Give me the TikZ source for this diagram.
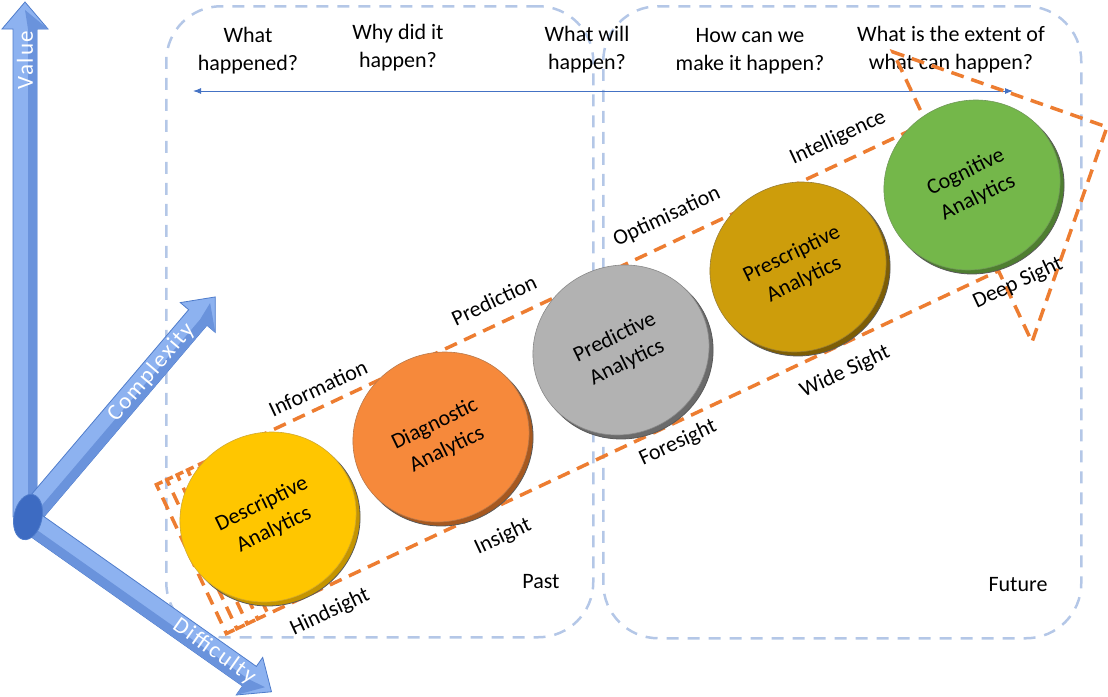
\documentclass[tikz,border=0pt]{standalone}
\usepackage{fontspec}
\setmainfont{Carlito}
\usetikzlibrary{shapes.geometric,calc,arrows.meta}

\definecolor{boxblue}{HTML}{B4C7E7}
\definecolor{linkblue}{HTML}{4472C4}
\definecolor{dashorange}{HTML}{ED7D31}
\definecolor{axislight}{HTML}{8DB2F0}
\definecolor{axisdark}{HTML}{6A93DC}
\definecolor{axisedge}{HTML}{4F7CCB}
\definecolor{jointblue}{HTML}{3D6BC2}
% stage colours: face / rim
\definecolor{descface}{HTML}{FFC600}
\definecolor{descrim}{HTML}{C49400}
\definecolor{diagface}{HTML}{F6893B}
\definecolor{diagrim}{HTML}{A6581F}
\definecolor{predface}{HTML}{B2B2B2}
\definecolor{predrim}{HTML}{6B6B6B}
\definecolor{prescface}{HTML}{CD9D0B}
\definecolor{prescrim}{HTML}{7D5D05}
\definecolor{cogface}{HTML}{74B74A}
\definecolor{cogrim}{HTML}{4E7E30}

\tikzset{
  txt/.style={font=\fontsize{22}{28}\selectfont, inner sep=0pt, align=center},
  zone/.style={draw=boxblue, line width=2.5pt, dash pattern=on 12pt off 9pt,
    rounded corners=55pt, inner sep=0pt, anchor=north west},
  flow/.style={draw=dashorange, line width=3.5pt, dash pattern=on 13pt off 8pt},
  disc/.style={ellipse, minimum width=178pt, minimum height=168pt, inner sep=0pt,
    rotate=26, txt},
  rim/.style={disc, fill=#1, draw=black!65, line width=0.8pt},
  face/.style={disc, fill=#1},
  tag/.style={txt, rotate=25},
  axis/.style={fill=axislight, draw=axisedge, line width=0.8pt},
  axisshade/.style={fill=axisdark},
  axislabel/.style={inner sep=0pt, text=white,
    font=\fontsize{23}{28}\selectfont\addfontfeature{LetterSpace=8}},
}

\begin{document}
\begin{tikzpicture}[x=1pt, y=-1pt]
\useasboundingbox (0,0) rectangle (1108,696);

% past / future zones
\node[zone, minimum width=427pt, minimum height=631pt] (past) at (165,5) {};
\node[zone, minimum width=478pt, minimum height=632pt] (future) at (602,5) {};
\node[txt] (pastlbl) at (541,582) {Past};
\node[txt] (futurelbl) at (1018,585) {Future};

% questions and the time line
\node[txt] (q1) at (248,51) {What\\happened?};
\node[txt] (q2) at (398,48) {Why did it\\happen?};
\node[txt] (q3) at (587,50) {What will\\happen?};
\node[txt] (q4) at (750,51) {How can we\\make it happen?};
\node[txt] (q5) at (951,50) {What is the extent of\\what can happen?};
\coordinate (tl) at (193,91);
\coordinate (tr) at (1013,91);
\draw[linkblue, line width=1pt, {Latex[length=8pt,width=6pt]}-{Latex[length=8pt,width=6pt]}] (tl) -- (tr);

% big dashed arrow
\coordinate (t0) at (198,465);
\coordinate (b0) at (268,614);
\coordinate (j1) at (926.4,122.9);
\coordinate (htop) at (893,52);
\coordinate (tip) at (1107,127);
\coordinate (hbot) at (1032,342);
\coordinate (j2) at (998.5,270.8);
\draw[flow] (t0) -- (j1) -- (htop) -- (tip) -- (hbot) -- (j2) -- (b0) -- cycle;
% trailing tails behind the arrow
\foreach \k in {1,2,3,4}{
  \coordinate (tk) at ($(t0)+\k*(-10.4,4.9)$);
  \coordinate (bk) at ($(b0)+\k*(-10.4,4.9)$);
  \draw[flow] ($(tk)+(6,-2.8)$) -- (tk) -- (bk) -- ($(bk)+(8,-3.8)$);
}

% labels along the arrow
\node[tag] (l1) at (318,388) {Information};
\node[tag] (l2) at (494,300) {Prediction};
\node[tag] (l3) at (667,217) {Optimisation};
\node[tag] (l4) at (838,138) {Intelligence};
\node[tag] (l5) at (330,612) {Hindsight};
\node[tag] (l6) at (503,537) {Insight};
\node[tag] (l7) at (678,443) {Foresight};
\node[tag] (l8) at (845,372) {Wide Sight};
\node[tag] (l9) at (1018,283) {Deep Sight};

% analytics stages
\node[rim=descrim] (desc-r) at (272,521) {};
\node[face=descface, draw=descrim!80, line width=0.6pt] (desc) at (268,517) {Descriptive\\Analytics};
\node[rim=diagrim] (diag-r) at (445,441) {};
\node[face=diagface, draw=diagrim!80, line width=0.6pt] (diag) at (441,437) {Diagnostic\\Analytics};
\node[rim=predrim] (pred-r) at (625,354) {};
\node[face=predface, draw=predrim!80, line width=0.6pt] (pred) at (621,350) {Predictive\\Analytics};
\node[rim=prescrim] (presc-r) at (802,271) {};
\node[face=prescface, draw=prescrim!80, line width=0.6pt] (presc) at (798,267) {Prescriptive\\Analytics};
\node[rim=cogrim] (cog-r) at (976,189) {};
\node[face=cogface, draw=cogrim!80, line width=0.6pt] (cog) at (972,185) {Cognitive\\Analytics};

% axes
\begin{scope}[shift={(25,517)}, rotate=90]
  \path[axis] (0,-12) -- (488,-12) -- (488,-23) -- (515,0) -- (488,23) -- (488,12) -- (0,12) -- cycle;
  \path[axisshade] (0,3) -- (488,3) -- (507,0) -- (488,23) -- (488,12) -- (0,12) -- cycle;
  \node[axislabel, rotate=90] (value) at (457,0) {Value};
\end{scope}
\begin{scope}[shift={(28,517)}, rotate=49.6]
  \path[axis] (0,-12) -- (262,-12) -- (262,-23) -- (289,0) -- (262,23) -- (262,12) -- (0,12) -- cycle;
  \path[axisshade] (0,3) -- (262,3) -- (281,0) -- (262,23) -- (262,12) -- (0,12) -- cycle;
  \node[axislabel, rotate=49.6] (complexity) at (190,0) {Complexity};
\end{scope}
\begin{scope}[shift={(28,520)}, rotate=-35.2]
  \path[axis] (0,-12) -- (271,-12) -- (271,-23) -- (298,0) -- (271,23) -- (271,12) -- (0,12) -- cycle;
  \path[axisshade] (0,3) -- (271,3) -- (290,0) -- (271,23) -- (271,12) -- (0,12) -- cycle;
  \node[axislabel, rotate=-35.2] (difficulty) at (228,0) {Difficulty};
\end{scope}
\node[ellipse, fill=jointblue, draw=axisedge, line width=0.8pt, minimum width=28pt,
  minimum height=46pt, inner sep=0pt, rotate=-12] (joint) at (28,517) {};
\end{tikzpicture}
\end{document}
